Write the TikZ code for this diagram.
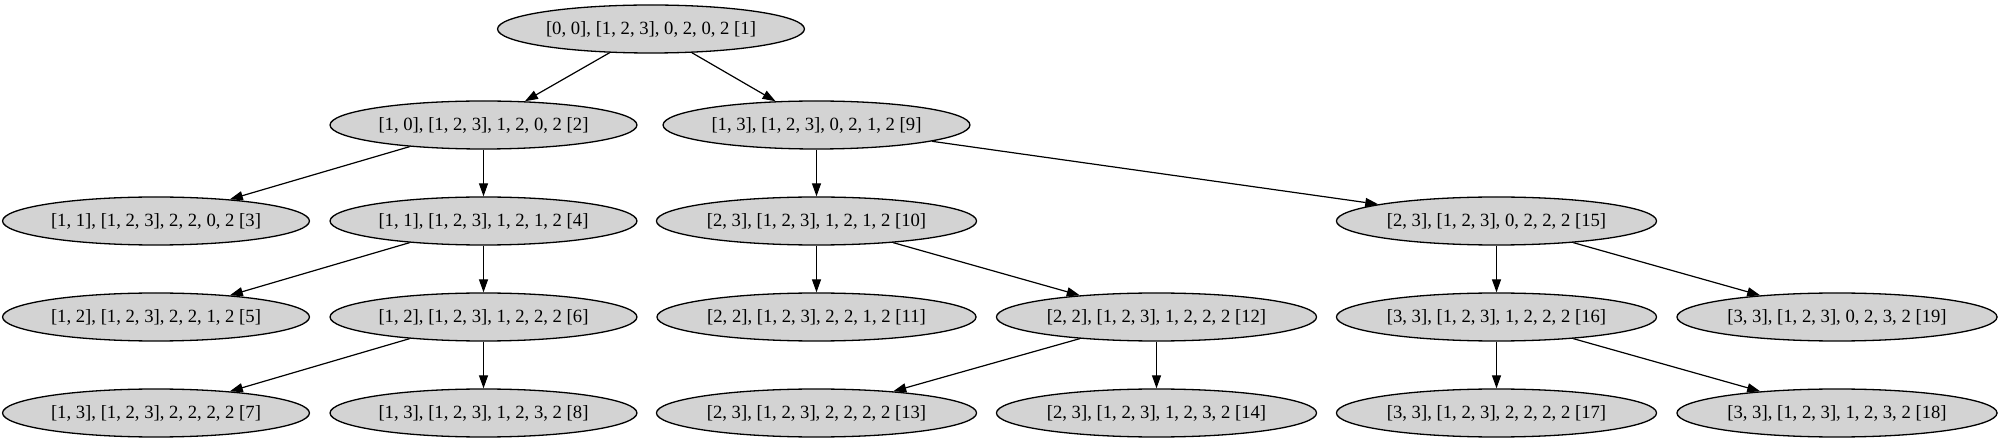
\documentclass[tikz,border=0pt]{standalone}
\usepackage{fontspec}
\setmainfont{Liberation Serif}
\usetikzlibrary{shapes.geometric,arrows.meta}
\definecolor{gvgrey}{HTML}{D3D3D3}
\tikzset{
  gvnode/.style={ellipse, draw=black, fill=gvgrey, line width=1.3pt,
    minimum height=48pt, inner xsep=3.5pt, inner ysep=0pt,
    font=\fontsize{18.67}{22}\selectfont},
  gvedge/.style={draw=black, line width=1.2pt, -{Triangle[length=13pt,width=9pt]}}
}
\begin{document}
\begin{tikzpicture}[x=1pt,y=-1pt]
\useasboundingbox (0,0) rectangle (2000,443);
\node[gvnode] (n1) at (651,29) {[0, 0], [1, 2, 3], 0, 2, 0, 2 [1]};
\node[gvnode] (n2) at (483.5,125) {[1, 0], [1, 2, 3], 1, 2, 0, 2 [2]};
\node[gvnode] (n9) at (816.5,125) {[1, 3], [1, 2, 3], 0, 2, 1, 2 [9]};
\node[gvnode] (n3) at (156,221) {[1, 1], [1, 2, 3], 2, 2, 0, 2 [3]};
\node[gvnode] (n4) at (483.5,221) {[1, 1], [1, 2, 3], 1, 2, 1, 2 [4]};
\node[gvnode] (n10) at (816.5,221) {[2, 3], [1, 2, 3], 1, 2, 1, 2 [10]};
\node[gvnode] (n15) at (1496.5,221) {[2, 3], [1, 2, 3], 0, 2, 2, 2 [15]};
\node[gvnode] (n5) at (156,317) {[1, 2], [1, 2, 3], 2, 2, 1, 2 [5]};
\node[gvnode] (n6) at (483.5,317) {[1, 2], [1, 2, 3], 1, 2, 2, 2 [6]};
\node[gvnode] (n11) at (816.5,317) {[2, 2], [1, 2, 3], 2, 2, 1, 2 [11]};
\node[gvnode] (n12) at (1156.5,317) {[2, 2], [1, 2, 3], 1, 2, 2, 2 [12]};
\node[gvnode] (n16) at (1496.5,317) {[3, 3], [1, 2, 3], 1, 2, 2, 2 [16]};
\node[gvnode] (n19) at (1837,317) {[3, 3], [1, 2, 3], 0, 2, 3, 2 [19]};
\node[gvnode] (n7) at (156,413) {[1, 3], [1, 2, 3], 2, 2, 2, 2 [7]};
\node[gvnode] (n8) at (483.5,413) {[1, 3], [1, 2, 3], 1, 2, 3, 2 [8]};
\node[gvnode] (n13) at (816.5,413) {[2, 3], [1, 2, 3], 2, 2, 2, 2 [13]};
\node[gvnode] (n14) at (1156.5,413) {[2, 3], [1, 2, 3], 1, 2, 3, 2 [14]};
\node[gvnode] (n17) at (1496.5,413) {[3, 3], [1, 2, 3], 2, 2, 2, 2 [17]};
\node[gvnode] (n18) at (1837,413) {[3, 3], [1, 2, 3], 1, 2, 3, 2 [18]};
\draw[gvedge] (n1) -- (n2);
\draw[gvedge] (n1) -- (n9);
\draw[gvedge] (n2) -- (n3);
\draw[gvedge] (n2) -- (n4);
\draw[gvedge] (n4) -- (n5);
\draw[gvedge] (n4) -- (n6);
\draw[gvedge] (n6) -- (n7);
\draw[gvedge] (n6) -- (n8);
\draw[gvedge] (n9) -- (n10);
\draw[gvedge] (n9) -- (n15);
\draw[gvedge] (n10) -- (n11);
\draw[gvedge] (n10) -- (n12);
\draw[gvedge] (n12) -- (n13);
\draw[gvedge] (n12) -- (n14);
\draw[gvedge] (n15) -- (n16);
\draw[gvedge] (n15) -- (n19);
\draw[gvedge] (n16) -- (n17);
\draw[gvedge] (n16) -- (n18);
\end{tikzpicture}
\end{document}
